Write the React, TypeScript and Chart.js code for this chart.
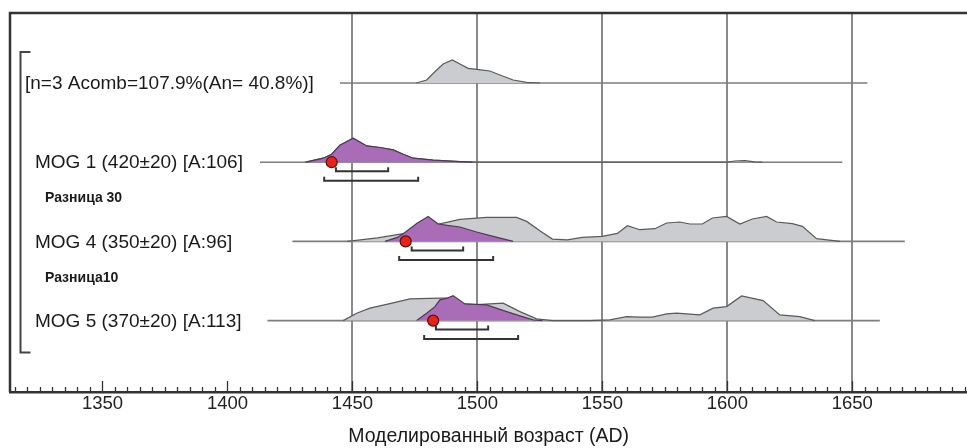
import React, { useEffect, useRef } from "react";
import { Chart, registerables } from "chart.js";

Chart.register(...registerables);

// ---- axis ----
const X_MIN = 1313;
const X_MAX = 1696;
const X_TICK_LABELS = [1350, 1400, 1450, 1500, 1550, 1600, 1650];
const GRID_YEARS = [1450, 1500, 1550, 1600, 1650];
const X_TITLE = "Моделированный возраст (AD)";

// ---- rows ----
const ROW_LABELS = [
  "[n=3 Acomb=107.9%(An= 40.8%)]",
  "MOG 1 (420±20) [A:106]",
  "MOG 4 (350±20) [A:96]",
  "MOG 5 (370±20) [A:113]",
];
const DIFF_LABELS = ["Разница 30", "Разница10"];
const ROW_SPANS = [
  [1445, 1656],
  [1413, 1646],
  [1426, 1671],
  [1416, 1661],
];

// ---- distributions [year, relative probability] ----
const GROUP_DIST = [
  [1475.5, 0], [1479.7, 3], [1483.7, 13], [1486.3, 19], [1490, 23], [1493, 19],
  [1496.3, 14.7], [1499.7, 13.7], [1505, 12], [1509, 8], [1514.3, 3], [1519.7, 0.7], [1525, 0],
];
const MOG1_LIKE = [
  [1431, 0], [1438.3, 4], [1441.7, 8], [1445, 17], [1450.3, 24], [1455.7, 16.3], [1461, 14.7],
  [1466.3, 12.3], [1470.3, 8], [1474.3, 4], [1482.3, 2], [1493, 0.5], [1500, 0],
  [1600, 0], [1603, 1.2], [1607, 1.6], [1611, 0.4], [1614, 0],
];
const MOG1_POST = [
  [1431.7, 0], [1438.3, 4], [1441.7, 8], [1445, 17], [1450.3, 24], [1455.7, 16.3], [1461, 14.7],
  [1466.3, 12.3], [1470.3, 8], [1474.3, 4], [1482.3, 2], [1493, 0.5], [1498, 0],
];
const MOG4_LIKE = [
  [1448, 0], [1460, 3.5], [1471, 8], [1475.7, 13.4], [1484.3, 17.4], [1487.7, 19], [1493, 22],
  [1503.7, 24], [1515.7, 24], [1519.7, 20], [1526, 9], [1530, 2.3], [1536, 1.5], [1542, 4],
  [1550, 5], [1556, 8], [1560, 15.7], [1565, 11.7], [1571, 12.7], [1575.7, 18.4], [1581, 19.4],
  [1585, 17.4], [1590, 17.4], [1594, 23.4], [1599.7, 25], [1605, 17.4], [1610, 22.4],
  [1615.7, 25], [1619.7, 19.4], [1626, 17.7], [1630, 15], [1635.7, 2.7], [1645, 0],
];
const MOG4_POST = [
  [1463, 0], [1468, 4], [1471, 9], [1475.7, 18], [1480.3, 25], [1484.3, 17.4],
  [1488, 16], [1493, 14.4], [1499.7, 9.4], [1506.3, 5], [1514.3, 0],
];
const MOG5_LIKE = [
  [1446.3, 0], [1451.7, 7.4], [1457, 12.4], [1465, 17], [1473, 21.7], [1485, 22.4], [1488, 22.5],
  [1494.3, 16.4], [1500, 16], [1505, 16.7], [1510.3, 17.4], [1517, 9], [1523.7, 1.7], [1530, 0],
  [1545, 0], [1553, 0.7], [1559.7, 4], [1565, 3.5], [1570, 3.4], [1575.7, 6.7], [1579.7, 7.4],
  [1585, 6.5], [1589, 5.7], [1594.3, 12.4], [1599.7, 14], [1605.7, 24.7], [1614.3, 20],
  [1621, 5.7], [1629, 4], [1635, 0],
];
const MOG5_POST = [
  [1475.7, 0], [1479.7, 7.4], [1483, 14], [1485, 20.7], [1488, 22.5], [1490.3, 25], [1495, 16.7],
  [1503.7, 15.7], [1511.7, 9], [1518, 4], [1522.3, 0.7], [1526, 0],
];

// ---- summary statistics ----
const MEDIANS = [1441.7, 1471.3, 1482.3];
const RANGE_68 = [
  [1443.4, 1464.3],
  [1473.7, 1494.3],
  [1483.4, 1504.3],
];
const RANGE_95 = [
  [1438.7, 1476.3],
  [1468.7, 1506.3],
  [1478.7, 1516.3],
];

// ---- layout constants ----
const ROW_PX = 79.2;
const PROB_SCALE = 1 / ROW_PX;
const Y_MIN = -70 / ROW_PX;
const Y_MAX = 309 / ROW_PX;
const FONT = "'Liberation Sans', Arial, Helvetica, sans-serif";

const GREY_FILL = "#cbcccf";
const GREY_LINE = "#5a5a5a";
const PURPLE_FILL = "#a86db6";
const PURPLE_LINE = "#4f3a55";

function distPoints(dist: number[][], row: number) {
  return dist.map(([x, p]) => ({ x, y: row - p * PROB_SCALE }));
}

function distDataset(dist: number[][], row: number, fillColor: string, lineColor: string, order: number) {
  return {
    data: distPoints(dist, row),
    borderColor: lineColor,
    borderWidth: 1.2,
    backgroundColor: fillColor,
    fill: { value: row },
    pointRadius: 0,
    tension: 0,
    order,
  };
}

function bracketDataset(range: number[], row: number, offsetPx: number) {
  const y = row + offsetPx / ROW_PX;
  const tick = 4 / ROW_PX;
  return {
    data: [
      { x: range[0], y: y - tick },
      { x: range[0], y },
      { x: range[1], y },
      { x: range[1], y: y - tick },
    ],
    borderColor: "#333333",
    borderWidth: 2,
    pointRadius: 0,
    fill: false,
    tension: 0,
    order: 1,
  };
}

const decorPlugin = {
  id: "decor",
  beforeDatasetsDraw(chart: any) {
    const { ctx, chartArea } = chart;
    ctx.save();
    ctx.strokeStyle = "#333333";
    ctx.lineWidth = 2.5;
    ctx.beginPath();
    ctx.moveTo(chartArea.left, chartArea.bottom);
    ctx.lineTo(chartArea.left, chartArea.top);
    ctx.lineTo(chartArea.right + 5, chartArea.top);
    ctx.stroke();
    ctx.restore();
  },
  afterDraw(chart: any) {
    const { ctx, chartArea, scales } = chart;
    const xs = scales.x;
    const ys = scales.y;
    ctx.save();
    // upward ticks
    ctx.strokeStyle = "#333333";
    ctx.lineWidth = 1.3;
    for (let v = Math.ceil(X_MIN / 5) * 5; v <= X_MAX; v += 5) {
      const px = Math.round(xs.getPixelForValue(v)) + 0.5;
      const len = v % 50 === 0 ? 11 : 5;
      ctx.beginPath();
      ctx.moveTo(px, chartArea.bottom);
      ctx.lineTo(px, chartArea.bottom - len);
      ctx.stroke();
    }
    // left group bracket
    const bx = chartArea.left + 10.5;
    const by0 = ys.getPixelForValue(0 - 31 / ROW_PX);
    const by1 = ys.getPixelForValue(3 + 32 / ROW_PX);
    ctx.strokeStyle = "#444444";
    ctx.lineWidth = 2;
    ctx.beginPath();
    ctx.moveTo(bx + 10, by0);
    ctx.lineTo(bx, by0);
    ctx.lineTo(bx, by1);
    ctx.lineTo(bx + 10, by1);
    ctx.stroke();
    // labels
    ctx.fillStyle = "#1a1a1a";
    ctx.textBaseline = "middle";
    ctx.textAlign = "left";
    ctx.font = `19px ${FONT}`;
    ROW_LABELS.forEach((label, i) => {
      const x = chartArea.left + (i === 0 ? 15 : 25);
      ctx.fillText(label, x, ys.getPixelForValue(i) + 1);
    });
    ctx.font = `bold 14px ${FONT}`;
    DIFF_LABELS.forEach((label, i) => {
      ctx.fillText(label, chartArea.left + 35, ys.getPixelForValue(i + 1.46));
    });
    ctx.restore();
  },
};

export default function App() {
  const canvasRef = useRef<HTMLCanvasElement | null>(null);

  useEffect(() => {
    const canvas = canvasRef.current;
    if (!canvas) return;

    const datasets: any[] = [];
    datasets.push({
      data: MEDIANS.map((x, i) => ({ x, y: i + 1 })),
      showLine: false,
      pointRadius: 5.5,
      pointBackgroundColor: "#e6241b",
      pointBorderColor: "#5b0d08",
      pointBorderWidth: 1.2,
      order: 0,
    });
    RANGE_68.forEach((r, i) => datasets.push(bracketDataset(r, i + 1, 9)));
    RANGE_95.forEach((r, i) => datasets.push(bracketDataset(r, i + 1, 18.5)));
    datasets.push(distDataset(MOG1_POST, 1, PURPLE_FILL, PURPLE_LINE, 2));
    datasets.push(distDataset(MOG4_POST, 2, PURPLE_FILL, PURPLE_LINE, 2));
    datasets.push(distDataset(MOG5_POST, 3, PURPLE_FILL, PURPLE_LINE, 2));
    datasets.push(distDataset(GROUP_DIST, 0, GREY_FILL, GREY_LINE, 3));
    datasets.push(distDataset(MOG1_LIKE, 1, GREY_FILL, GREY_LINE, 3));
    datasets.push(distDataset(MOG4_LIKE, 2, GREY_FILL, GREY_LINE, 3));
    datasets.push(distDataset(MOG5_LIKE, 3, GREY_FILL, GREY_LINE, 3));
    ROW_SPANS.forEach((s, i) =>
      datasets.push({
        data: [
          { x: s[0], y: i },
          { x: s[1], y: i },
        ],
        borderColor: "#7d7d7d",
        borderWidth: 1.6,
        pointRadius: 0,
        fill: false,
        order: 4,
      })
    );

    const chart = new Chart(canvas, {
      type: "line",
      data: { datasets },
      options: {
        animation: false,
        responsive: false,
        devicePixelRatio: 1,
        layout: { padding: { left: 10, top: 13, right: 0, bottom: 0 } },
        plugins: { legend: { display: false }, tooltip: { enabled: false } },
        scales: {
          x: {
            type: "linear",
            min: X_MIN,
            max: X_MAX,
            afterFit: (scale: any) => {
              scale.height = 56;
            },
            ticks: {
              stepSize: 5,
              autoSkip: false,
              includeBounds: false,
              maxRotation: 0,
              padding: 1,
              color: "#222222",
              font: { family: FONT, size: 18.5 },
              callback: (v: any) => (X_TICK_LABELS.includes(Number(v)) ? String(v) : ""),
            },
            grid: {
              drawTicks: false,
              lineWidth: 2,
              color: (c: any) =>
                c.tick && GRID_YEARS.includes(c.tick.value) ? "#8a8a8a" : "rgba(0,0,0,0)",
            },
            border: { display: true, color: "#333333", width: 2.5 },
            title: {
              display: true,
              text: X_TITLE,
              color: "#1a1a1a",
              font: { family: FONT, size: 19.5 },
              padding: { top: 0, bottom: 0 },
            },
          },
          y: {
            type: "linear",
            display: false,
            min: Y_MIN,
            max: Y_MAX,
            reverse: true,
          },
        },
      },
      plugins: [decorPlugin],
    } as any);

    return () => chart.destroy();
  }, []);

  return (
    <div
      style={{
        position: "fixed",
        left: 0,
        top: 0,
        width: 967,
        height: 448,
        overflow: "hidden",
        background: "#fff",
      }}
    >
      <canvas ref={canvasRef} width={974} height={448} style={{ display: "block" }} />
    </div>
  );
}
